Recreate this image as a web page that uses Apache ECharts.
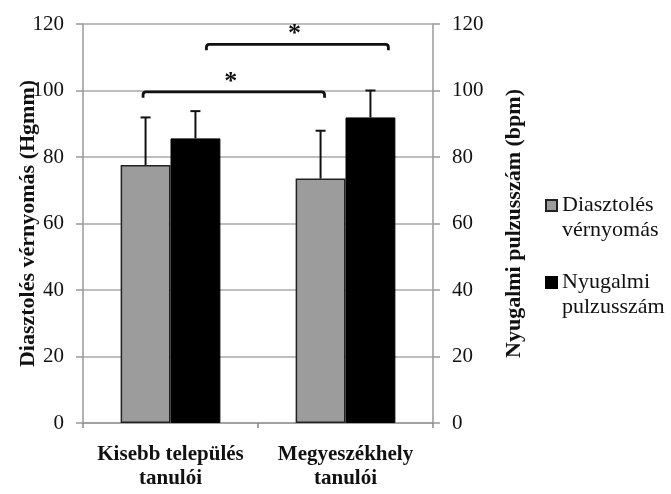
<!DOCTYPE html>
<html>
<head>
<meta charset="utf-8">
<script src="https://cdn.jsdelivr.net/npm/echarts@6/dist/echarts.min.js"></script>
<style>html,body{margin:0;padding:0;background:#fff;}#c{width:671px;height:494px;}</style>
</head>
<body>
<div id="c"></div>
<script>
const categories = ['Kisebb település\ntanulói', 'Megyeszékhely\ntanulói'];
const seriesNames = ['Diasztolés\nvérnyomás', 'Nyugalmi\npulzusszám'];
const diastolic = [77.6, 73.5];
const diastolicSD = [14.3, 14.4];
const pulse = [85.6, 91.9];
const pulseSD = [8.2, 8.1];
const yTicks = [0, 20, 40, 60, 80, 100, 120];
// significance brackets: height (axis value), star label
const bracketHeights = [99.6, 113.9];
const bracketLabels = ['*', '*'];

const FONT = 'Liberation Serif';
const GAP = 0.43;

const chart = echarts.init(document.getElementById('c'), null, {renderer: 'canvas'});

function barWidthPx(api) {
  const cw = api.size([1, 0])[0];
  return cw * (1 - GAP) / 2;
}

function errorSeries(vals, sds, side, yIdx) {
  return {
    type: 'custom',
    yAxisIndex: yIdx,
    z: 5,
    silent: true,
    data: vals.map((v, i) => [i, v, v + sds[i]]),
    renderItem: function (params, api) {
      const bw = barWidthPx(api);
      const p0 = api.coord([api.value(0), api.value(1)]);
      const p1 = api.coord([api.value(0), api.value(2)]);
      const x = p0[0] + side * bw / 2;
      const cap = 5;
      const st = {stroke: '#111', lineWidth: 2};
      return {
        type: 'group',
        children: [
          {type: 'line', shape: {x1: x, y1: p0[1], x2: x, y2: p1[1]}, style: st},
          {type: 'line', shape: {x1: x - cap, y1: p1[1], x2: x + cap, y2: p1[1]}, style: st}
        ]
      };
    }
  };
}

const bracketSpec = [
  // [fromCat, fromOffset(bar widths), toCat, toOffset]
  [0, -0.55, 1, -0.42],
  [0, 0.72, 1, 0.86]
];

const bracketSeries = {
  type: 'custom',
  z: 6,
  silent: true,
  data: bracketHeights.map((h, i) => [i, h]),
  renderItem: function (params, api) {
    const i = params.dataIndex;
    const s = bracketSpec[i];
    const bw = barWidthPx(api);
    const y = api.coord([0, api.value(1)])[1];
    const xa = api.coord([s[0], 0])[0] + s[1] * bw;
    const xb = api.coord([s[2], 0])[0] + s[3] * bw;
    const d = 6;
    const r = 3;
    const path = 'M' + xa + ' ' + (y + d) + ' L' + xa + ' ' + (y + r) +
      ' Q' + xa + ' ' + y + ' ' + (xa + r) + ' ' + y +
      ' L' + (xb - r) + ' ' + y + ' Q' + xb + ' ' + y + ' ' + xb + ' ' + (y + r) +
      ' L' + xb + ' ' + (y + d);
    return {
      type: 'group',
      children: [
        {type: 'path', shape: {pathData: path}, style: {stroke: '#111', lineWidth: 2.8, fill: null}},
        {type: 'text', x: (xa + xb) / 2 - 3, y: y + 3,
          style: {text: bracketLabels[i], font: 'bold 26px "' + FONT + '"', fill: '#111',
            align: 'center', verticalAlign: 'bottom'}}
      ]
    };
  }
};

const yAxisCommon = {
  type: 'value', min: 0, max: 120, interval: 20,
  axisLine: {show: true, lineStyle: {color: '#999', width: 1.5}},
  axisTick: {show: true, length: 7, lineStyle: {color: '#999', width: 1.5}},
  axisLabel: {fontFamily: FONT, fontSize: 21, color: '#111', margin: 19,
    formatter: v => yTicks.indexOf(v) >= 0 ? String(v) : ''},
  nameLocation: 'middle',
  nameMoveOverlap: false,
  nameTextStyle: {fontFamily: FONT, fontSize: 22, fontWeight: 'bold', color: '#111'}
};

chart.setOption({
  animation: false,
  backgroundColor: '#fff',
  grid: {left: 83, right: 238, top: 24, bottom: 71, containLabel: false, outerBoundsMode: 'none'},
  legend: {
    orient: 'vertical',
    left: 540, top: 163,
    itemWidth: 11, itemHeight: 11, itemGap: 2,
    icon: 'rect',
    formatter: name => '\n' + name,
    textStyle: {fontFamily: FONT, fontSize: 22, color: '#111', lineHeight: 25},
    data: seriesNames
  },
  xAxis: {
    type: 'category',
    data: categories,
    axisLine: {lineStyle: {color: '#999', width: 1.5}},
    axisTick: {show: true, length: 5, lineStyle: {color: '#888', width: 1.5}},
    axisLabel: {interval: 0, hideOverlap: false, fontFamily: FONT, fontSize: 21, fontWeight: 'bold',
      color: '#111', margin: 20, lineHeight: 24}
  },
  yAxis: [
    Object.assign({}, yAxisCommon, {
      position: 'left', name: 'Diasztolés vérnyomás (Hgmm)', nameGap: 44,
      splitLine: {show: true, lineStyle: {color: '#a8a8a8', width: 1.5}}
    }),
    Object.assign({}, yAxisCommon, {
      position: 'right', name: 'Nyugalmi pulzusszám (bpm)', nameGap: 70, nameRotate: 90,
      splitLine: {show: false}
    })
  ],
  series: [
    {
      name: seriesNames[0], type: 'bar', yAxisIndex: 0,
      data: diastolic, barGap: '0%', barCategoryGap: (GAP * 100) + '%',
      itemStyle: {color: '#9c9c9c', borderColor: '#222', borderWidth: 1.5}
    },
    {
      name: seriesNames[1], type: 'bar', yAxisIndex: 1,
      data: pulse, barGap: '0%', barCategoryGap: (GAP * 100) + '%',
      itemStyle: {color: '#000', borderColor: '#000', borderWidth: 1}
    },
    errorSeries(diastolic, diastolicSD, -1, 0),
    errorSeries(pulse, pulseSD, 1, 1),
    bracketSeries
  ]
});
</script>
</body>
</html>
